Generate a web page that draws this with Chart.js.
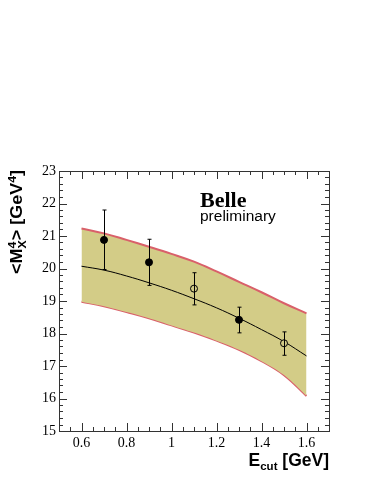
<!DOCTYPE html>
<html lang="en">
<head>
  <meta charset="UTF-8" />
  <title>Belle M_X^4 vs E_cut</title>
  <script src="https://cdn.jsdelivr.net/npm/chart.js"></script>
  <style>
    html, body {
      margin: 0;
      padding: 0;
      background: #fff;
    }
    #chart-container {
      width: 374px;
      height: 484px;
      position: relative;
    }
  </style>
</head>
<body>
  <div id="chart-container">
    <canvas id="myChart"></canvas>
  </div>

  <script>
    // band (theory prediction)
    const bandX = [0.6, 0.7, 0.8, 0.9, 1.0, 1.1, 1.2, 1.3, 1.4, 1.5, 1.6];
    const bandUpper = [21.23, 21.08, 20.88, 20.67, 20.45, 20.21, 19.91, 19.59, 19.27, 18.93, 18.62];
    const bandCentral = [20.07, 19.95, 19.77, 19.56, 19.33, 19.07, 18.79, 18.47, 18.12, 17.75, 17.31];
    const bandLower = [18.98, 18.84, 18.66, 18.47, 18.25, 18.03, 17.78, 17.50, 17.15, 16.72, 16.08];

    // measurements
    const filledX = [0.7, 0.9, 1.3];
    const filledY = [20.88, 20.19, 18.42];
    const filledErrUp = [0.92, 0.71, 0.39];
    const filledErrDown = [0.91, 0.71, 0.40];

    const openX = [1.1, 1.5];
    const openY = [19.38, 17.70];
    const openErrUp = [0.49, 0.35];
    const openErrDown = [0.50, 0.37];

    const xTicks = [0.6, 0.8, 1.0, 1.2, 1.4, 1.6];
    const yTicks = [15, 16, 17, 18, 19, 20, 21, 22, 23];

    const pts = (xs, ys) => xs.map((x, i) => ({ x: x, y: ys[i] }));

    const errorBars = {
      id: 'errorBars',
      afterDatasetsDraw(chart) {
        const ctx = chart.ctx;
        const xs = chart.scales.x, ys = chart.scales.y;
        const sets = [
          [filledX, filledY, filledErrUp, filledErrDown],
          [openX, openY, openErrUp, openErrDown]
        ];
        ctx.save();
        ctx.strokeStyle = '#000';
        ctx.lineWidth = 1;
        for (const [X, Y, up, dn] of sets) {
          X.forEach((x, i) => {
            const px = Math.round(xs.getPixelForValue(x)) + 0.5;
            const top = ys.getPixelForValue(Y[i] + up[i]);
            const bot = ys.getPixelForValue(Y[i] - dn[i]);
            ctx.beginPath();
            ctx.moveTo(px, top); ctx.lineTo(px, bot);
            ctx.moveTo(px - 2, top); ctx.lineTo(px + 2, top);
            ctx.moveTo(px - 2, bot); ctx.lineTo(px + 2, bot);
            ctx.stroke();
          });
        }
        ctx.restore();
      }
    };

    const frame = {
      id: 'frame',
      afterDraw(chart) {
        const ctx = chart.ctx;
        const a = chart.chartArea;
        const xs = chart.scales.x, ys = chart.scales.y;
        ctx.save();
        ctx.strokeStyle = '#333';
        ctx.lineWidth = 1;
        ctx.strokeRect(Math.round(a.left) + 0.5, Math.round(a.top) + 0.5,
          Math.round(a.right - a.left), Math.round(a.bottom - a.top));
        ctx.beginPath();
        // x ticks, minor every 0.05
        for (let k = 10; k <= 34; k++) {
          const v = k * 0.05;
          const px = Math.round(xs.getPixelForValue(v)) + 0.5;
          const len = (k % 4 === 0) ? 8 : 4;
          ctx.moveTo(px, a.bottom); ctx.lineTo(px, a.bottom - len);
          ctx.moveTo(px, a.top); ctx.lineTo(px, a.top + len);
        }
        // y ticks, minor every 0.2
        for (let k = 75; k <= 115; k++) {
          const v = k * 0.2;
          const py = Math.round(ys.getPixelForValue(v)) + 0.5;
          const len = (k % 5 === 0) ? 8 : 4;
          ctx.moveTo(a.left, py); ctx.lineTo(a.left + len, py);
          ctx.moveTo(a.right, py); ctx.lineTo(a.right - len, py);
        }
        ctx.stroke();

        // Belle label
        ctx.fillStyle = '#000';
        ctx.textAlign = 'left';
        ctx.textBaseline = 'alphabetic';
        ctx.font = 'bold 22px "Liberation Serif"';
        ctx.fillText('Belle', 200, 207);
        ctx.font = '15.5px "Liberation Sans"';
        ctx.fillText('preliminary', 200, 221);

        // x title: E_cut [GeV], right aligned
        const big = 'bold 17.5px "Liberation Sans"';
        const small = 'bold 11.5px "Liberation Sans"';
        ctx.font = big;
        const wE = ctx.measureText('E').width;
        const wRest = ctx.measureText(' [GeV]').width;
        ctx.font = small;
        const wCut = ctx.measureText('cut').width;
        const x0 = a.right - (wE + wCut + wRest);
        const by = 466;
        ctx.font = big;
        ctx.fillText('E', x0, by);
        ctx.font = small;
        ctx.fillText('cut', x0 + wE, by + 4);
        ctx.font = big;
        ctx.fillText(' [GeV]', x0 + wE + wCut, by);

        // y title: <M^4_X> [GeV^4], rotated, right aligned to top
        const bigY = 'bold 16px "Liberation Sans"';
        const smallY = 'bold 11px "Liberation Sans"';
        ctx.translate(22, a.top - 1);
        ctx.rotate(-Math.PI / 2);
        ctx.font = bigY;
        const w1 = ctx.measureText('<M').width;
        const w3 = ctx.measureText('> [GeV').width;
        const w5 = ctx.measureText(']').width;
        ctx.font = smallY;
        const w2 = ctx.measureText('X').width;
        const w4 = ctx.measureText('4').width;
        const total = w1 + w2 + w3 + w4 + w5;
        ctx.scale(104 / total, 1);
        let x = -total;
        ctx.font = bigY;
        ctx.fillText('<M', x, 0); x += w1;
        ctx.font = smallY;
        ctx.fillText('4', x, -6.5);
        ctx.fillText('X', x, 4); x += w2;
        ctx.font = bigY;
        ctx.fillText('> [GeV', x, 0); x += w3;
        ctx.font = smallY;
        ctx.fillText('4', x, -6.5); x += w4;
        ctx.font = bigY;
        ctx.fillText(']', x, 0);
        ctx.restore();
      }
    };

    new Chart(document.getElementById('myChart').getContext('2d'), {
      type: 'scatter',
      data: {
        datasets: [
          {
            label: 'upper',
            type: 'line',
            data: pts(bandX, bandUpper),
            borderColor: '#d9606a',
            borderWidth: 2,
            backgroundColor: '#d3cc87',
            fill: '+1',
            pointRadius: 0,
            tension: 0.4,
            order: 3
          },
          {
            label: 'lower',
            type: 'line',
            data: pts(bandX, bandLower),
            borderColor: '#d9606a',
            borderWidth: 2,
            fill: false,
            pointRadius: 0,
            tension: 0.4,
            order: 3
          },
          {
            label: 'central',
            type: 'line',
            data: pts(bandX, bandCentral),
            borderColor: '#000',
            borderWidth: 1,
            fill: false,
            pointRadius: 0,
            tension: 0.4,
            order: 2
          },
          {
            label: 'filled',
            data: pts(filledX, filledY),
            pointRadius: 3.5,
            pointBackgroundColor: '#000',
            pointBorderColor: '#000',
            order: 0
          },
          {
            label: 'open',
            data: pts(openX, openY),
            pointRadius: 3.5,
            pointBackgroundColor: '#d3cc87',
            pointBorderColor: '#000',
            pointBorderWidth: 1,
            order: 0
          }
        ]
      },
      options: {
        responsive: true,
        maintainAspectRatio: false,
        animation: false,
        events: [],
        layout: { padding: { top: 171, right: 45, left: 0, bottom: 0 } },
        plugins: { legend: { display: false }, tooltip: { enabled: false } },
        scales: {
          x: {
            type: 'linear',
            min: 0.5,
            max: 1.7,
            afterBuildTicks: s => { s.ticks = xTicks.map(v => ({ value: v })); },
            afterFit: s => { s.height = 53; },
            grid: { display: false, drawTicks: false },
            border: { display: false },
            ticks: {
              color: '#000',
              padding: 4,
              maxRotation: 0,
              font: { family: '"Liberation Serif"', size: 14 },
              callback: v => (Math.abs(v - 1) < 1e-9 ? '1' : String(+v.toFixed(1)))
            }
          },
          y: {
            type: 'linear',
            min: 15,
            max: 23,
            afterBuildTicks: s => { s.ticks = yTicks.map(v => ({ value: v })); },
            afterFit: s => { s.width = 59; },
            grid: { display: false, drawTicks: false },
            border: { display: false },
            ticks: {
              color: '#000',
              padding: 3,
              font: { family: '"Liberation Serif"', size: 14 }
            }
          }
        }
      },
      plugins: [errorBars, frame]
    });
  </script>
</body>
</html>
